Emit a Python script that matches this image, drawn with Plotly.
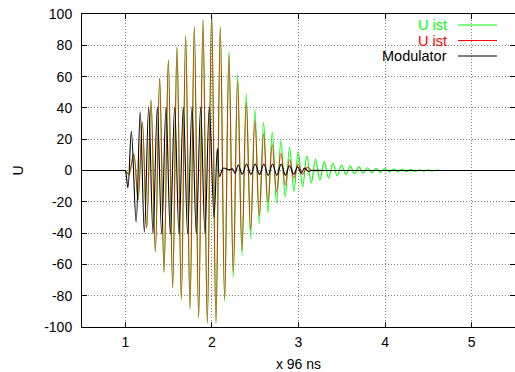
import plotly.graph_objects as go

# ---- data: extrema (x in units of 96 ns, U) ----
green_x = [0.5, 0.95, 0.99, 1.0, 1.04, 1.097, 1.147, 1.197, 1.247, 1.297, 1.347, 1.397, 1.447,
           1.497, 1.547, 1.597, 1.647, 1.697, 1.747, 1.797, 1.847, 1.897, 1.947,
           1.997, 2.047, 2.097, 2.147, 2.197, 2.247, 2.297, 2.347, 2.397, 2.447,
           2.497, 2.547, 2.597, 2.647, 2.697, 2.747, 2.797, 2.847, 2.897, 2.947,
           2.997, 3.047, 3.097, 3.147, 3.197, 3.247, 3.297, 3.347, 3.397, 3.447,
           3.497, 3.547, 3.597, 3.647, 3.697, 3.747, 3.797, 3.847, 3.897, 3.947,
           3.997, 4.047, 4.097, 4.147, 4.197, 4.247, 4.297, 4.347, 4.397, 4.447,
           4.497, 4.547, 4.597, 4.65, 4.75, 5.5]
green_y = [0, 0, 0, 0, -2.5, 10.5, -19, 31, -37, 45, -52, 59, -65,
           70.5, -75, 79, -82.5, 86, -88.5, 92, -94, 96.5, -97.5,
           101, -97.5, 92, -84, 76.5, -68.5, 61.5, -54.5, 49, -43.5,
           39, -34, 31, -27, 24.5, -21, 19, -16.8, 15, -13.4,
           11.9, -10.5, 9.3, -8, 7.2, -6.2, 5.7, -4.8, 4.6, -3.5,
           3.5, -2.6, 2.9, -2.1, 2.3, -1.7, 1.8, -1.4, 1.4, -1.1,
           1.2, -0.9, 1.0, -0.7, 0.8, -0.6, 0.6, -0.5, 0.5, -0.4,
           0.4, -0.3, 0.3, 0, 0, 0]

red_x = [0.5, 0.95, 0.99, 1.0, 1.04, 1.097, 1.147, 1.197, 1.247, 1.297, 1.347, 1.397, 1.447,
         1.497, 1.547, 1.597, 1.647, 1.697, 1.747, 1.797, 1.847, 1.897, 1.947,
         1.997, 2.047, 2.097, 2.147, 2.197, 2.247, 2.297, 2.347, 2.397, 2.447,
         2.497, 2.547, 2.597, 2.647, 2.697, 2.747, 2.797, 2.847, 2.897, 2.947,
         2.997, 3.047, 3.097, 3.16, 3.3, 5.5]
red_y = [0, 0, 0, 0, -2.5, 10.5, -19, 31, -37, 45, -52, 59, -65,
         70.5, -75, 79, -82.5, 86, -88.5, 92, -94, 96.5, -97.5,
         101, -97.5, 91.5, -82, 74, -65, 57.5, -51, 43.5, -38,
         32, -29, 23.5, -20.5, 16.5, -13.5, 11, -9.3, 7, -4.8,
         4.2, -2.6, 2, 0, 0, 0]

mod_x = [0.5, 0.95, 0.99, 1.0, 1.03, 1.07, 1.125, 1.172, 1.22, 1.27, 1.32, 1.37, 1.42, 1.47,
         1.52, 1.57, 1.62, 1.67, 1.72, 1.77, 1.82, 1.87, 1.92, 1.97, 2.025,
         2.063, 2.09, 2.13, 2.2, 2.24, 2.267, 2.305, 2.35, 2.40, 2.45, 2.50,
         2.55, 2.60, 2.65, 2.70, 2.75, 2.80, 2.85, 2.895, 2.945, 2.99, 3.03,
         3.07, 3.11, 3.15, 3.3, 5.5]
mod_y = [0, 0, 0, 0, -11, 25, -33, 37.5, -39.5, 40.5, -40.5, 40.5, -40.5, 40.5,
         -40.5, 40.5, -40.5, 40.5, -40.5, 40.5, -40.5, 40.5, -40.5, 40.5, -30,
         14, -4, 1.5, 0.5, 1, -1.8, 3.5, -2.4, 4.2, -2.5, 4.2,
         -2.6, 4.2, -3, 4.2, -3, 4, -3, 3, -2.4, 2.4, -1.8,
         1.5, -0.5, 0, 0, 0]

y_ticks = [100, 80, 60, 40, 20, 0, -20, -40, -60, -80, -100]
y_tick_text = ["100", "80", "60", "40", "20", "0", "-20", "-40", "-60", "-80", "-100"]
x_ticks = [1, 2, 3, 4, 5]
x_tick_text = ["1", "2", "3", "4", "5"]

series_names = ["U ist", "U ist", "Modulator"]
series_colors = ["#00ff00", "#ff0000", "#000000"]

FONT = "Liberation Sans, Arial, sans-serif"
FS = 14

fig = go.Figure()
for xs, ys, name, col, op in [(green_x, green_y, series_names[0], series_colors[0], 1.0),
                              (red_x, red_y, series_names[1], series_colors[1], 0.75),
                              (mod_x, mod_y, series_names[2], series_colors[2], 1.0)]:
    fig.add_trace(go.Scatter(x=xs, y=ys, mode="lines", name=name, opacity=op,
                             line=dict(color=col, width=1.1, shape="spline", smoothing=1.0),
                             showlegend=False))

axis_common = dict(showline=True, linecolor="black", linewidth=1, mirror="ticks",
                   ticks="inside", ticklen=5, tickcolor="black", automargin=False,
                   showgrid=True, gridcolor="#808080", griddash="1px,2px", gridwidth=1,
                   zeroline=False, tickfont=dict(family=FONT, size=FS, color="black"))

fig.update_xaxes(range=[0.5, 5.5], tickvals=x_ticks, ticktext=x_tick_text,
                 ticklabelstandoff=2,
                 title=dict(text="x 96 ns", font=dict(family=FONT, size=FS, color="black"), standoff=11),
                 **axis_common)
fig.update_yaxes(range=[-100, 100], tickvals=y_ticks, ticktext=y_tick_text,
                 ticklabelstandoff=6,
                 title=dict(text="U", font=dict(family=FONT, size=FS, color="black"), standoff=17),
                 **axis_common)

# manual legend (text left of sample line, gnuplot style)
W, H = 515, 372
L, R, T, B = 82, 0, 14, 45
pw, ph = W - L - R, H - T - B


def px(x):
    return (x - L) / pw


def py(y):
    return (H - B - y) / ph


fig.add_shape(type="rect", xref="paper", yref="paper", x0=px(376), x1=px(507),
              y0=py(64), y1=py(15), fillcolor="white", line=dict(width=0), layer="between")
for i, (name, col) in enumerate(zip(series_names, series_colors)):
    yy = py(25 + 15.5 * i)
    fig.add_annotation(xref="paper", yref="paper", x=px(449), y=yy, text=name,
                       showarrow=False, xanchor="right", yanchor="middle",
                       font=dict(family=FONT, size=14.5, color=col))
    fig.add_shape(type="line", xref="paper", yref="paper", x0=px(458), x1=px(497),
                  y0=yy, y1=yy, line=dict(color=col, width=1.1))

fig.update_layout(width=W, height=H, margin=dict(l=L, r=R, t=T, b=B),
                  paper_bgcolor="white", plot_bgcolor="white",
                  font=dict(family=FONT, size=FS, color="black"))

fig.write_html("out.html", config={"displayModeBar": False},
               post_script="document.body.style.margin='0';document.body.style.overflow='hidden';")
